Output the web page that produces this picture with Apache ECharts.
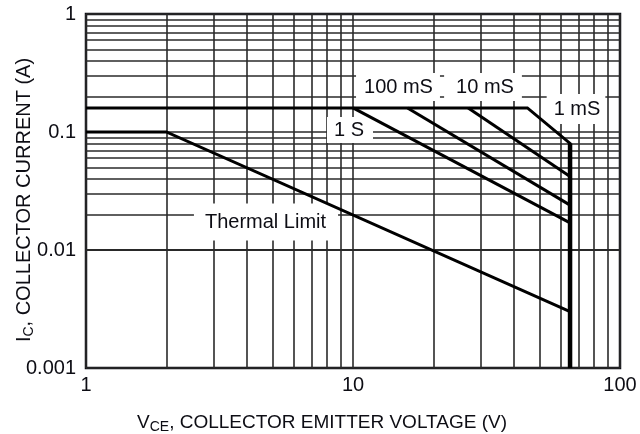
<!DOCTYPE html>
<html>
<head>
<meta charset="utf-8">
<script src="https://cdn.jsdelivr.net/npm/echarts@6/dist/echarts.min.js"></script>
<style>
  html, body { margin: 0; padding: 0; background: #fff; }
  #chart { width: 640px; height: 434px; }
</style>
</head>
<body>
<div id="chart"></div>
<script>
// Safe operating area, VCE (V) vs IC (A)
const xTicks = [1, 10, 100];
const yTicks = [0.001, 0.01, 0.1, 1];

const thermalLimit = [[1, 0.1], [2, 0.1], [65, 0.003]];
const pulse1ms = [[1, 0.16], [45, 0.16], [65, 0.08], [65, 0.001]];
const pulse10ms = [[27, 0.16], [65, 0.042]];
const pulse100ms = [[16, 0.16], [65, 0.024]];
const dc1s = [[10, 0.16], [65, 0.017]];

const curveLabels = ['100 mS', '10 mS', '1 mS', '1 S', 'Thermal Limit'];

// 2..9 minor grid lines inside each decade
const mantissas = [2, 3, 4, 5, 6, 7, 8, 9];
const minorX = [];
[1, 10].forEach(d => mantissas.forEach(m => minorX.push(m * d)));
const minorY = [];
[0.001, 0.01, 0.1].forEach(d => mantissas.forEach(m => minorY.push(+(m * d).toPrecision(3))));

const ink = '#0d0d14';
const gridInk = '#2a2a2a';
const font = 'Liberation Sans, Arial, Helvetica, sans-serif';

const chart = echarts.init(document.getElementById('chart'), null, { renderer: 'canvas' });

function curve(data, width) {
  return {
    type: 'line',
    data: data,
    symbol: 'none',
    z: 5,
    silent: true,
    animation: false,
    lineStyle: { color: '#000', width: width || 3, cap: 'butt', join: 'miter' }
  };
}

function labelBox(text, x, y, pad) {
  return {
    type: 'text',
    x: x,
    y: y,
    z: 3,
    silent: true,
    style: {
      text: text,
      fill: ink,
      fontSize: 20,
      fontFamily: font,
      align: 'center',
      verticalAlign: 'middle',
      backgroundColor: '#fff',
      padding: pad
    }
  };
}

const option = {
  animation: false,
  backgroundColor: '#fff',
  grid: {
    show: true,
    left: 86, top: 14, right: 20, bottom: 66,
    outerBoundsMode: 'none',
    containLabel: false,
    borderColor: ink,
    borderWidth: 2.5,
    backgroundColor: 'transparent'
  },
  xAxis: {
    type: 'log',
    logBase: 10,
    min: xTicks[0],
    max: xTicks[xTicks.length - 1],
    name: '{b|V}{s|CE}{b|, COLLECTOR EMITTER VOLTAGE (V)}',
    nameLocation: 'middle',
    nameGap: 43,
    nameMoveOverlap: false,
    nameTextStyle: {
      padding: [0, 62, 0, 0],
      rich: {
        b: { fontSize: 19, fontFamily: font, color: ink },
        s: { fontSize: 14, fontFamily: font, color: ink, padding: [9, 0, 0, 0] }
      }
    },
    axisLine: { show: false },
    axisTick: { show: false },
    axisLabel: { fontSize: 20, fontFamily: font, color: ink, margin: 7 },
    splitLine: { show: true, lineStyle: { color: gridInk, width: 1.6 } }
  },
  yAxis: {
    type: 'log',
    logBase: 10,
    min: yTicks[0],
    max: yTicks[yTicks.length - 1],
    name: '{b|I}{s|C}{b|, COLLECTOR CURRENT (A)}',
    nameLocation: 'middle',
    nameGap: 50,
    nameMoveOverlap: false,
    nameTextStyle: {
      padding: [0, 18, 0, 0],
      rich: {
        b: { fontSize: 20, fontFamily: font, color: ink },
        s: { fontSize: 14, fontFamily: font, color: ink, padding: [9, 0, 0, 0] }
      }
    },
    axisLine: { show: false },
    axisTick: { show: false },
    axisLabel: {
      fontSize: 20, fontFamily: font, color: ink, margin: 10,
      formatter: v => String(+v.toPrecision(3))
    },
    splitLine: { show: true, lineStyle: { color: gridInk, width: 1.6 } }
  },
  graphic: {
    elements: [
      labelBox(curveLabels[0], 398, 87, [4, 7, 4, 8]),
      labelBox(curveLabels[1], 483, 87, [4, 8, 4, 12]),
      labelBox(curveLabels[2], 576, 109, [5, 5, 5, 7]),
      labelBox(curveLabels[3], 350, 130, [3, 9, 3, 7]),
      labelBox(curveLabels[4], 266, 222, [9, 12, 8, 11])
    ]
  },
  series: [
    {
      type: 'line',
      data: [],
      z: 1,
      silent: true,
      markLine: {
        z: 1,
        silent: true,
        animation: false,
        symbol: ['none', 'none'],
        label: { show: false },
        lineStyle: { color: gridInk, width: 1.6, type: 'solid' },
        emphasis: { disabled: true },
        data: minorX.map(v => ({ xAxis: v })).concat(minorY.map(v => ({ yAxis: v })))
      }
    },
    curve(thermalLimit, 3),
    curve(dc1s, 3),
    curve(pulse100ms, 3),
    curve(pulse10ms, 3),
    curve(pulse1ms, 3),
    curve([pulse1ms[2], pulse1ms[3]], 4.5)
  ]
};

chart.setOption(option);
</script>
</body>
</html>
